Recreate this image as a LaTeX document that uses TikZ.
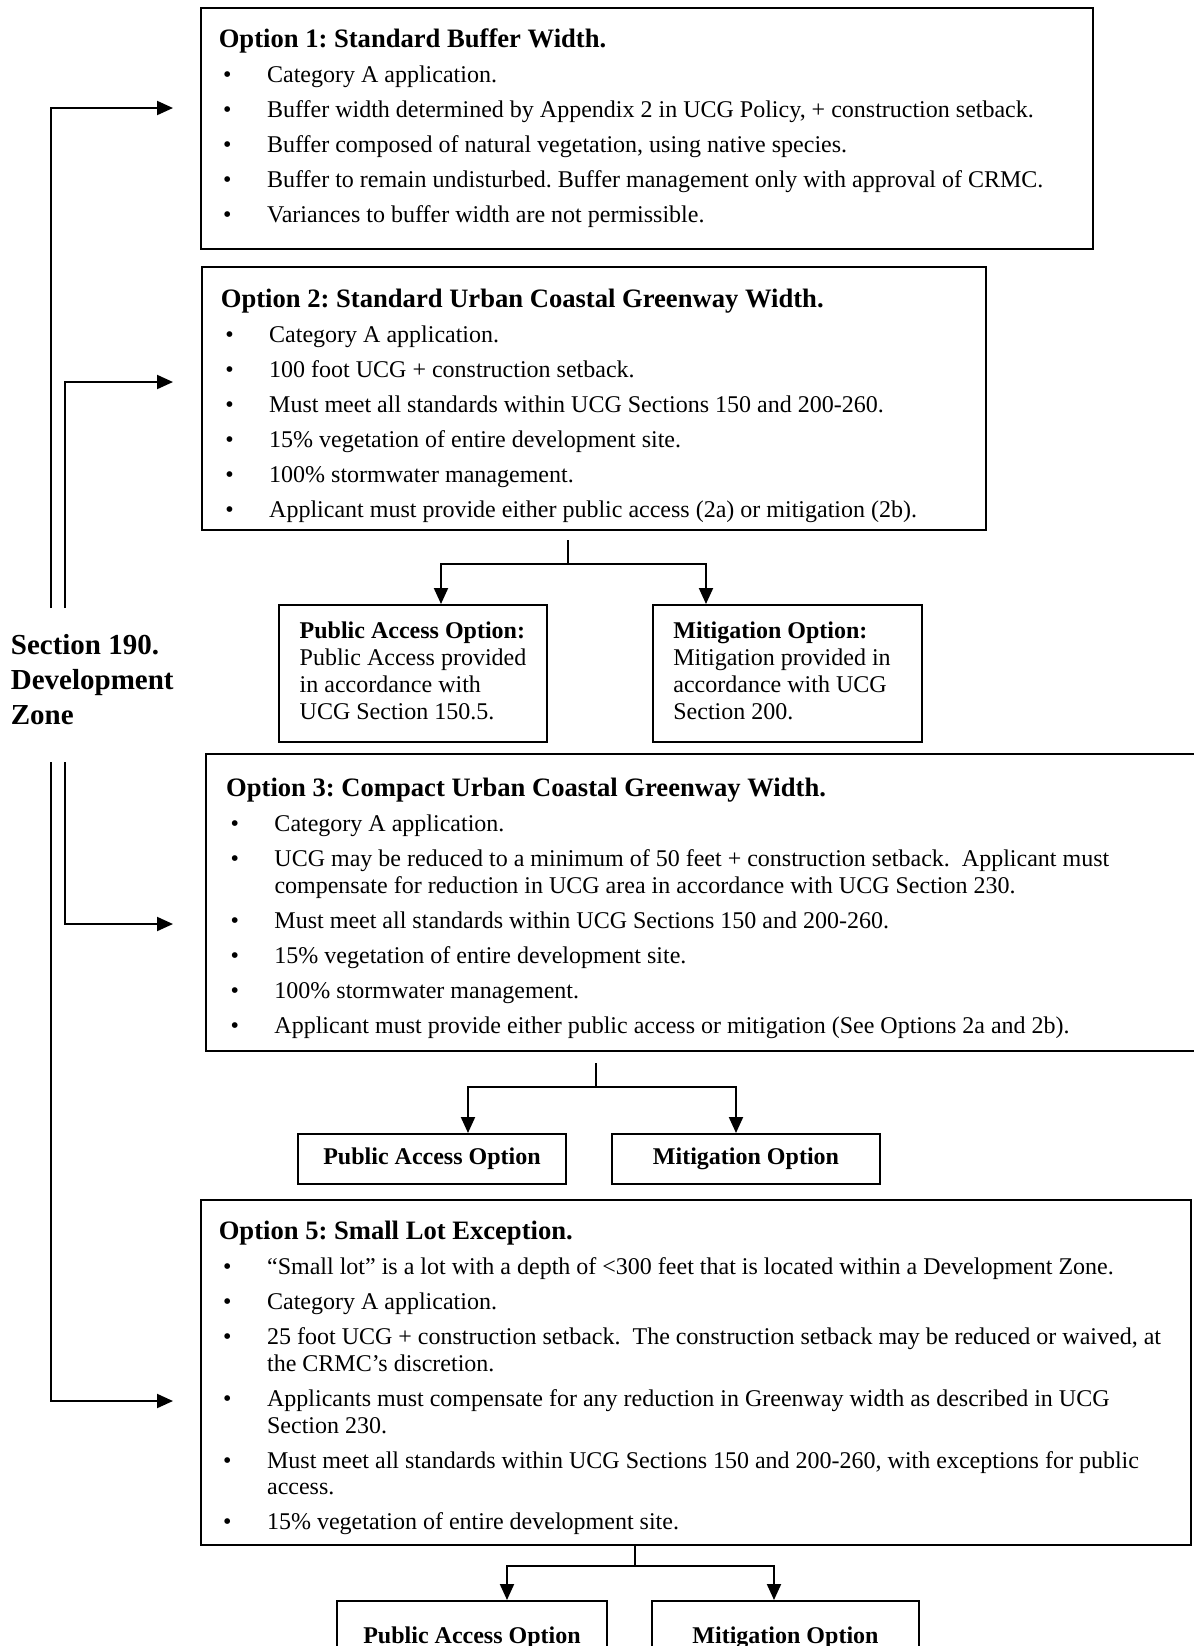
\documentclass[tikz,border=0pt]{standalone}
\usepackage{fontspec}
\setmainfont{Liberation Serif}
\usetikzlibrary{arrows.meta,calc}
\frenchspacing

% bullet line inside an option box
\newcommand{\optitem}[1]{\par\hangindent=24.15pt\hangafter=1\noindent\hspace*{2.2pt}\makebox[21.95pt][l]{\textbullet}#1}
\newcommand{\opttitle}[1]{\noindent{\fontsize{13.3}{13.4}\selectfont\bfseries #1}}
\newcommand{\optlist}[1]{\parbox[t]{490pt}{\raggedright\fontsize{12}{13.4}\selectfont\setlength{\parskip}{4.1pt}#1}}

\begin{document}
\begin{tikzpicture}[x=0.5pt,y=0.5pt,yscale=-1,xscale=1,
  optbox/.style={draw, line width=1pt, inner sep=0pt, anchor=north west},
  txtnode/.style={inner sep=0pt, anchor=base west},
  arr/.style={line width=1pt, -{Triangle[length=8pt,width=7pt]}},
  link/.style={line width=1pt}]
\useasboundingbox (0,0) rectangle (1194,1646);
\clip (0,0) rectangle (1194,1646);

%Shape: Rectangle [option boxes]
\node[optbox, minimum width=446.2pt, minimum height=120.2pt] (opt1) at (199.5,7.4) {};
\node[optbox, minimum width=392.2pt, minimum height=131.6pt] (opt2) at (200.6,265.7) {};
\node[optbox, minimum width=505pt, minimum height=148.5pt] (opt3) at (204.8,753) {};
\node[optbox, minimum width=495.2pt, minimum height=172.5pt] (opt5) at (199.5,1199) {};
%Shape: Rectangle [sub options]
\node[optbox, minimum width=134pt, minimum height=68.5pt] (pa2) at (278,604) {};
\node[optbox, minimum width=134.5pt, minimum height=68.5pt] (mit2) at (652,604) {};
\node[optbox, minimum width=134pt, minimum height=25pt, font=\fontsize{12}{14}\selectfont\bfseries] (pa3) at (297,1133) {Public Access Option};
\node[optbox, minimum width=134pt, minimum height=25pt, font=\fontsize{12}{14}\selectfont\bfseries] (mit3) at (611,1133) {Mitigation Option};
\node[optbox, minimum width=135pt, minimum height=37pt, font=\fontsize{12}{14}\selectfont\bfseries] (pa5) at (336,1600) {Public Access Option};
\node[optbox, minimum width=133.5pt, minimum height=37pt, font=\fontsize{12}{14}\selectfont\bfseries] (mit5) at (651,1600) {Mitigation Option};

% Text Node
\node[txtnode] (opt1txt) at (218.4,47.7) {\optlist{%
\opttitle{Option 1: Standard Buffer Width.}
\optitem{Category A application.}
\optitem{Buffer width determined by Appendix 2 in UCG Policy, + construction setback.}
\optitem{Buffer composed of natural vegetation, using native species.}
\optitem{Buffer to remain undisturbed. Buffer management only with approval of CRMC.}
\optitem{Variances to buffer width are not permissible.}}};
% Text Node
\node[txtnode] (opt2txt) at (220.5,307) {\optlist{%
\opttitle{Option 2: Standard Urban Coastal Greenway Width.}
\optitem{Category A application.}
\optitem{100 foot UCG + construction setback.}
\optitem{Must meet all standards within UCG Sections 150 and 200-260.}
\optitem{15\% vegetation of entire development site.}
\optitem{100\% stormwater management.}
\optitem{Applicant must provide either public access (2a) or mitigation (2b).}}};
% Text Node
\node[txtnode] (opt3txt) at (225.8,796.4) {\optlist{%
\opttitle{Option 3: Compact Urban Coastal Greenway Width.}
\optitem{Category A application.}
\optitem{UCG may be reduced to a minimum of 50 feet + construction setback.\ \ Applicant must\newline compensate for reduction in UCG area in accordance with UCG Section 230.}
\optitem{Must meet all standards within UCG Sections 150 and 200-260.}
\optitem{15\% vegetation of entire development site.}
\optitem{100\% stormwater management.}
\optitem{Applicant must provide either public access or mitigation (See Options 2a and 2b).}}};
% Text Node
\node[txtnode] (opt5txt) at (218.4,1239.5) {\optlist{%
\opttitle{Option 5: Small Lot Exception.}
\optitem{“Small lot” is a lot with a depth of <300 feet that is located within a Development Zone.}
\optitem{Category A application.}
\optitem{25 foot UCG + construction setback.\ \ The construction setback may be reduced or waived, at\newline the CRMC’s discretion.}
\optitem{Applicants must compensate for any reduction in Greenway width as described in UCG\newline Section 230.}
\optitem{Must meet all standards within UCG Sections 150 and 200-260, with exceptions for public\newline access.}
\optitem{15\% vegetation of entire development site.}}};
% Text Node
\node[txtnode] (pa2txt) at (299.3,638) {\parbox[t]{130pt}{\fontsize{12}{13.65}\selectfont
\textbf{Public Access Option:}\\Public Access provided\\in accordance with\\UCG Section 150.5.}};
% Text Node
\node[txtnode] (mit2txt) at (673,638) {\parbox[t]{130pt}{\fontsize{12}{13.65}\selectfont
\textbf{Mitigation Option:}\\Mitigation provided in\\accordance with UCG\\Section 200.}};
% Text Node
\node[txtnode] (zone) at (10.5,654) {\parbox[t]{100pt}{\fontsize{14.5}{17.5}\selectfont\bfseries
Section 190.\\Development\\Zone}};

%Straight Lines [zone to options]
\coordinate (up1) at (51,608);
\coordinate (up2) at (65,608);
\coordinate (lo1) at (51,762);
\coordinate (lo2) at (65,762);
\coordinate (in1) at (173,108);
\coordinate (in2) at (173,382);
\coordinate (in3) at (173,924);
\coordinate (in5) at (173,1401);
\draw[arr] (up1) |- (in1);
\draw[arr] (up2) |- (in2);
\draw[arr] (lo2) |- (in3);
\draw[arr] (lo1) |- (in5);

%Straight Lines [option 2 split]
\coordinate (s2) at (568,540);
\coordinate (j2) at (568,564);
\draw[link] (s2) -- (j2);
\draw[arr] (j2) -| ($(pa2.north west)+(163,0)$);
\draw[arr] (j2) -| ($(mit2.north west)+(54,0)$);
%Straight Lines [option 3 split]
\coordinate (s3) at (596,1063);
\coordinate (j3) at (596,1087);
\draw[link] (s3) -- (j3);
\draw[arr] (j3) -| ($(pa3.north west)+(171,0)$);
\draw[arr] (j3) -| ($(mit3.north west)+(125,0)$);
%Straight Lines [option 5 split]
\coordinate (j5) at (635,1566);
\draw[link] (opt5.south west -| j5) -- (j5);
\draw[arr] (j5) -| ($(pa5.north west)+(171,0)$);
\draw[arr] (j5) -| ($(mit5.north west)+(123,0)$);

\end{tikzpicture}
\end{document}
